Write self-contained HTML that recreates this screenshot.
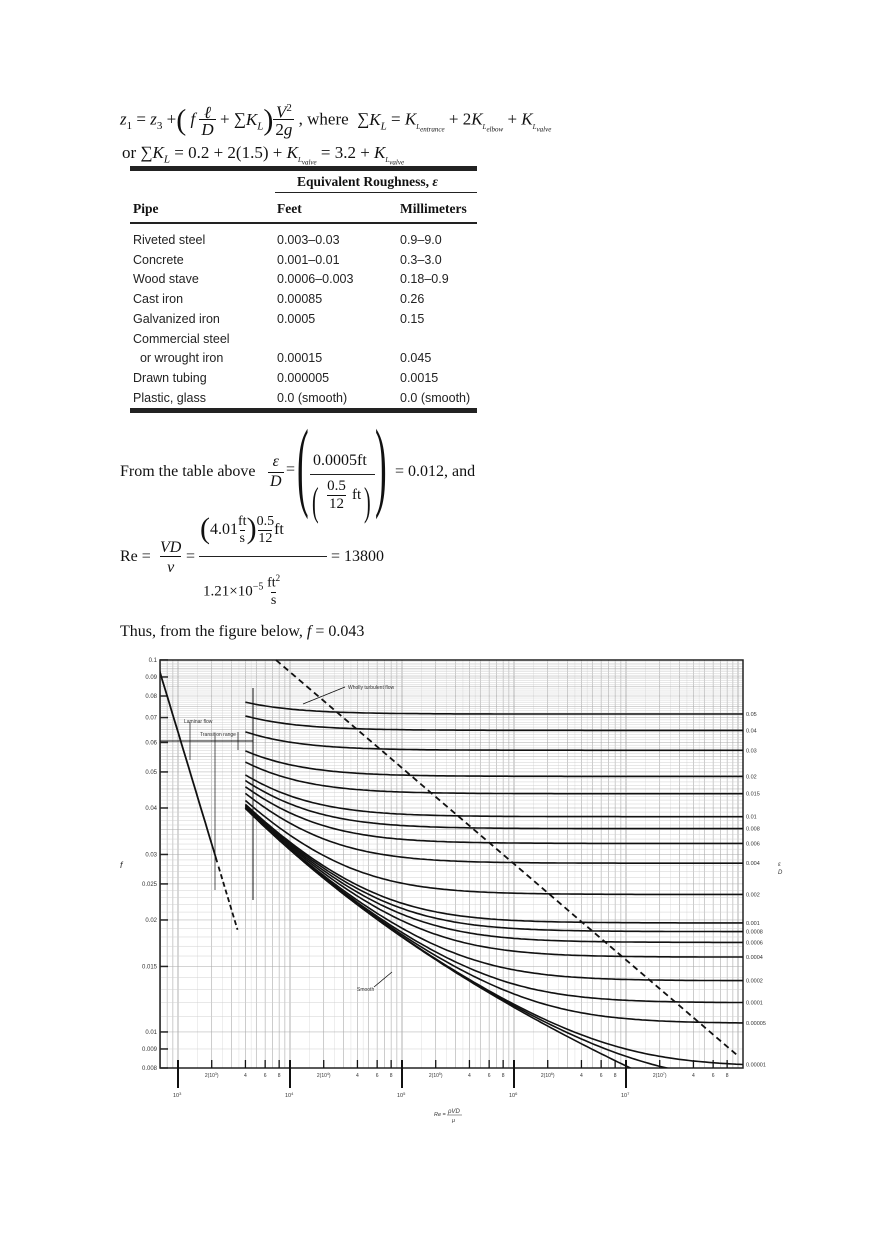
<!DOCTYPE html>
<html><head><meta charset="utf-8">
<style>
body{margin:0;background:#fff;}
#pg{position:relative;width:880px;height:1247px;overflow:hidden;font-family:"Liberation Serif",serif;color:#111;}
.t{position:absolute;white-space:nowrap;}
.i{font-style:italic;}
.tb{position:absolute;font-family:"Liberation Sans",sans-serif;font-size:12.5px;white-space:nowrap;color:#222;}
.rule{position:absolute;background:#222;}
sub{font-size:7px;}
</style></head><body><div id="pg">
<div class="t" style="left:120px;top:100px;font-size:17px;">
<span class="i">z</span><sub style="font-size:11px">1</sub> = <span class="i">z</span><sub style="font-size:11px">3</sub> +<span style="font-size:30px;vertical-align:-5px">(</span> <span class="i">f</span> <span style="display:inline-block;text-align:center;vertical-align:-10px;line-height:17px"><span class="i">ℓ</span><br><span style="border-top:1px solid #111;padding:0 2px" class="i">D</span></span> + ∑<span class="i">K<sub style="font-size:11px">L</sub></span><span style="font-size:30px;vertical-align:-5px">)</span><span style="display:inline-block;text-align:center;vertical-align:-10px;line-height:17px"><span class="i">V</span><sup style="font-size:11px">2</sup><br><span style="border-top:1px solid #111;padding:0 2px">2<span class="i">g</span></span></span> , where&nbsp; ∑<span class="i">K<sub style="font-size:11px">L</sub></span> = <span class="i">K</span><sub class="i">L<sub>entrance</sub></sub> + 2<span class="i">K</span><sub class="i">L<sub>elbow</sub></sub> + <span class="i">K</span><sub class="i">L<sub>valve</sub></sub>
</div>
<div class="t" style="left:122px;top:143px;font-size:17px;">or ∑<span class="i">K<sub style="font-size:11px">L</sub></span> = 0.2 + 2(1.5) + <span class="i">K</span><sub class="i">L<sub>valve</sub></sub> = 3.2 + <span class="i">K</span><sub class="i">L<sub>valve</sub></sub></div>
<div class="rule" style="left:130px;top:166px;width:347px;height:5px;"></div>
<div class="t" style="left:297px;top:174px;font-size:13.5px;font-weight:bold;">Equivalent Roughness, <span class="i">ε</span></div>
<div class="rule" style="left:275px;top:192px;width:202px;height:1px;"></div>
<div class="t" style="left:133px;top:201px;font-size:13.5px;font-weight:bold;">Pipe</div>
<div class="t" style="left:277px;top:201px;font-size:13.5px;font-weight:bold;">Feet</div>
<div class="t" style="left:400px;top:201px;font-size:13.5px;font-weight:bold;">Millimeters</div>
<div class="rule" style="left:130px;top:222px;width:347px;height:1.5px;"></div>
<div class="tb" style="left:133px;top:231px;line-height:19.7px">Riveted steel<br>Concrete<br>Wood stave<br>Cast iron<br>Galvanized iron<br>Commercial steel<br>&nbsp; or wrought iron<br>Drawn tubing<br>Plastic, glass</div>
<div class="tb" style="left:277px;top:231px;line-height:19.7px">0.003–0.03<br>0.001–0.01<br>0.0006–0.003<br>0.00085<br>0.0005<br>&nbsp;<br>0.00015<br>0.000005<br>0.0 (smooth)</div>
<div class="tb" style="left:400px;top:231px;line-height:19.7px">0.9–9.0<br>0.3–3.0<br>0.18–0.9<br>0.26<br>0.15<br>&nbsp;<br>0.045<br>0.0015<br>0.0 (smooth)</div>
<div class="rule" style="left:130px;top:408px;width:347px;height:5px;"></div>
<div class="t" style="left:120px;top:463px;font-size:16px;">From the table above</div>
<div class="t i" style="left:268px;top:452px;font-size:16px;line-height:20px;text-align:center;">ε<br><span style="border-top:1px solid #111;padding:0 2px">D</span></div>
<div class="t" style="left:286px;top:461px;font-size:16px;">=</div>
<div class="t" style="left:297px;top:410px;font-size:100px;font-weight:100;transform:scaleX(0.35);transform-origin:left;line-height:110px">(</div>
<div class="t" style="left:375px;top:410px;font-size:100px;transform:scaleX(0.35);transform-origin:left;line-height:110px">)</div>
<div class="t" style="left:313px;top:452px;font-size:16px;">0.0005ft</div>
<div class="rule" style="left:310px;top:474px;width:65px;height:1px;"></div>
<div class="t" style="left:312px;top:478px;font-size:40px;transform:scaleX(0.5);transform-origin:left;">(</div>
<div class="t" style="left:327px;top:477px;font-size:15px;line-height:18px;text-align:center;">0.5<br><span style="border-top:1px solid #111;padding:0 2px">12</span></div>
<div class="t" style="left:352px;top:487px;font-size:15px;">ft</div>
<div class="t" style="left:364px;top:478px;font-size:40px;transform:scaleX(0.5);transform-origin:left;">)</div>
<div class="t" style="left:395px;top:463px;font-size:16px;">= 0.012, and</div>
<div class="t" style="left:120px;top:548px;font-size:16px;">Re =</div>
<div class="t i" style="left:160px;top:538px;font-size:16px;line-height:20px;text-align:center;"><span style="border-bottom:1px solid #111;">VD</span><br>ν</div>
<div class="t" style="left:186px;top:548px;font-size:16px;">=</div>
<div class="t" style="left:200px;top:512px;font-size:16px;"><span style="font-size:30px;vertical-align:-4px">(</span>4.01<span style="display:inline-block;text-align:center;vertical-align:-8px;line-height:17px;font-size:14px">ft<br><span style="border-top:1px solid #111">s</span></span><span style="font-size:30px;vertical-align:-4px">)</span><span style="display:inline-block;text-align:center;vertical-align:-8px;line-height:17px;font-size:14px">0.5<br><span style="border-top:1px solid #111">12</span></span>ft</div>
<div class="rule" style="left:199px;top:556px;width:128px;height:1px;"></div>
<div class="t" style="left:203px;top:570px;font-size:15px;">1.21×10<sup style="font-size:10px">−5</sup> <span style="display:inline-block;text-align:center;vertical-align:-8px;line-height:17px;font-size:14px">ft<sup style="font-size:9px">2</sup><br><span style="border-top:1px solid #111">s</span></span></div>
<div class="t" style="left:331px;top:548px;font-size:16px;">= 13800</div>
<div class="t" style="left:120px;top:623px;font-size:16px;">Thus, from the figure below, <span class="i">f</span> = 0.043</div>
<svg id="ch" style="position:absolute;left:0;top:0" width="880" height="1247" font-family="Liberation Sans, sans-serif"></svg>
</div>
<script>
var s=document.getElementById('ch'),h='';
function X(r){return 178+112*(Math.log10(r)-3);}
function Y(f){return 1068-372*Math.log10(f/0.008);}
var L=160,R=743,T=660,B=1068;
for(var d=2;d<=8;d++)for(var k=1;k<10;k++){var x=X(k*Math.pow(10,d));if(x>L&&x<R)h+='<line x1="'+x+'" y1="'+T+'" x2="'+x+'" y2="'+B+'" stroke="#aaa" stroke-width="'+(k==1?0.9:0.6)+'"/>';
 var x2=X((k+0.5)*Math.pow(10,d));if(x2>L&&x2<R&&k<5)h+='<line x1="'+x2+'" y1="'+T+'" x2="'+x2+'" y2="'+B+'" stroke="#ddd" stroke-width="0.5"/>';}
for(var f=0.008;f<=0.1001;f+=0.001){var y=Y(f);h+='<line x1="'+L+'" y1="'+y+'" x2="'+R+'" y2="'+y+'" stroke="'+(Math.abs(f*200-Math.round(f*200))<0.01?'#aaa':'#d0d0d0')+'" stroke-width="0.5"/>';}
h+='<rect x="'+L+'" y="'+T+'" width="'+(R-L)+'" height="'+(B-T)+'" fill="none" stroke="#222" stroke-width="1.5"/>';
[[0.1,'0.1'],[0.09,'0.09'],[0.08,'0.08'],[0.07,'0.07'],[0.06,'0.06'],[0.05,'0.05'],[0.04,'0.04'],[0.03,'0.03'],[0.025,'0.025'],[0.02,'0.02'],[0.015,'0.015'],[0.01,'0.01'],[0.009,'0.009'],[0.008,'0.008']].forEach(function(a){var y=Y(a[0]);h+='<text x="157" y="'+(y+2)+'" font-size="6" text-anchor="end" fill="#333">'+a[1]+'</text><line x1="'+L+'" y1="'+y+'" x2="'+(L+8)+'" y2="'+y+'" stroke="#222" stroke-width="1.5"/>';});
h+='<text x="120" y="868" font-size="9" font-style="italic" fill="#333">f</text>';
h+='<text x="778" y="866" font-size="6" fill="#333" font-style="italic">ε</text><text x="778" y="874" font-size="6" fill="#333" font-style="italic">D</text>';
function cb(e,Re){var f=0.03;for(var i=0;i<30;i++){var v=-2*Math.log10(e/3.7+2.51/(Re*Math.sqrt(f)));f=1/(v*v);}return f;}
var eps=[[0.05,'0.05'],[0.04,'0.04'],[0.03,'0.03'],[0.02,'0.02'],[0.015,'0.015'],[0.01,'0.01'],[0.008,'0.008'],[0.006,'0.006'],[0.004,'0.004'],[0.002,'0.002'],[0.001,'0.001'],[0.0008,'0.0008'],[0.0006,'0.0006'],[0.0004,'0.0004'],[0.0002,'0.0002'],[0.0001,'0.0001'],[0.00005,'0.00005'],[0.00001,'0.00001'],[0.000005,''],[0,'']];
h+='<defs><clipPath id="cp"><rect x="'+L+'" y="'+T+'" width="'+(R-L)+'" height="'+(B-T)+'"/></clipPath></defs><g clip-path="url(#cp)">';
eps.forEach(function(a){var p='';for(var lr=Math.log10(4000);lr<=8.1;lr+=0.03){var r=Math.pow(10,lr);var f=cb(a[0],r);p+=(p?'L':'M')+X(r).toFixed(1)+' '+Y(f).toFixed(1);}
 h+='<path d="'+p+'" fill="none" stroke="#111" stroke-width="1.6"/>';});
var p='';for(var r=600;r<=2300;r*=1.05)p+=(p?'L':'M')+X(r).toFixed(1)+' '+Y(64/r).toFixed(1);
h+='<path d="'+p+'" fill="none" stroke="#111" stroke-width="1.8"/>';
h+='<line x1="'+X(2300)+'" y1="'+Y(64/2300)+'" x2="'+X(3400)+'" y2="'+Y(64/3400)+'" stroke="#111" stroke-width="1.8" stroke-dasharray="5,3"/>';
h+='</g>';
eps.forEach(function(a){if(!a[1])return;var f=cb(a[0],1e8);h+='<text x="746" y="'+(Y(f)+2)+'" font-size="5.5" fill="#333">'+a[1]+'</text>';});
h+='<line x1="276" y1="660" x2="737" y2="1055" stroke="#111" stroke-width="1.8" stroke-dasharray="6,4"/>';
h+='<line x1="303" y1="704" x2="345" y2="687" stroke="#111" stroke-width="0.8"/><text x="348" y="689" font-size="5" fill="#333">Wholly turbulent flow</text>';
h+='<line x1="253" y1="688" x2="253" y2="900" stroke="#111" stroke-width="1"/><line x1="'+L+'" y1="741" x2="253" y2="741" stroke="#111" stroke-width="1"/>';
h+='<line x1="190" y1="722" x2="190" y2="760" stroke="#111" stroke-width="0.7"/><line x1="215" y1="736" x2="215" y2="890" stroke="#111" stroke-width="0.7"/><line x1="238" y1="732" x2="238" y2="750" stroke="#111" stroke-width="0.7"/>';
h+='<text x="184" y="723" font-size="5" fill="#333">Laminar flow</text><text x="200" y="736" font-size="5" fill="#333">Transition range</text>';
h+='<line x1="374" y1="987" x2="392" y2="972" stroke="#111" stroke-width="0.8"/><text x="357" y="991" font-size="5" fill="#333">Smooth</text>';
for(var d=3;d<=7;d++){var x=X(Math.pow(10,d));h+='<line x1="'+x+'" y1="'+(B-8)+'" x2="'+x+'" y2="'+(B+20)+'" stroke="#111" stroke-width="2"/><text x="'+(x-5)+'" y="'+(B+29)+'" font-size="5.5" fill="#333">10<tspan dy="-2" font-size="4">'+d+'</tspan></text>';
 [2,4,6,8].forEach(function(k){var xx=X(k*Math.pow(10,d));if(xx<R){h+='<line x1="'+xx+'" y1="'+(B-8)+'" x2="'+xx+'" y2="'+B+'" stroke="#111" stroke-width="1.3"/><text x="'+xx+'" y="'+(B+9)+'" font-size="5" text-anchor="middle" fill="#333">'+(k==2?'2(10<tspan dy="-2" font-size="3.5">'+d+'</tspan><tspan dy="2">)</tspan>':k)+'</text>';}});}
h+='<text x="434" y="1116" font-size="5.5" font-style="italic" fill="#333">Re = </text><text x="448" y="1113" font-size="6" font-style="italic" fill="#333">ρVD</text><line x1="447" y1="1115" x2="462" y2="1115" stroke="#333" stroke-width="0.5"/><text x="452" y="1122" font-size="5.5" font-style="italic" fill="#333">μ</text>';
s.innerHTML=h;
</script>
</body></html>
